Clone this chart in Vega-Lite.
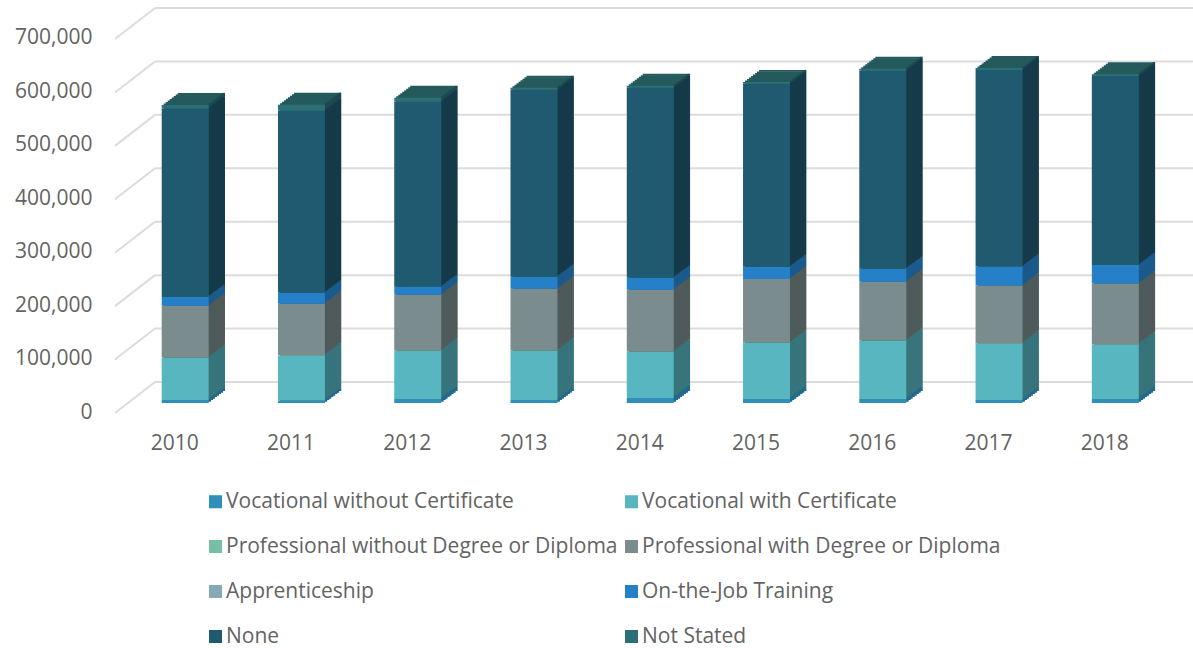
{"$schema":"https://vega.github.io/schema/vega-lite/v6.json","width":1193,"height":648,"padding":0,"autosize":"none","background":"white",
"config":{"view":{"stroke":null},"axis":{"grid":false,"domain":false,"ticks":false,"title":null,"labelFont":"Open Sans","labelFontSize":21,"labelColor":"#636363","labelPadding":0,"labelFlush":false,"labelOverlap":false},"legend":{"labelFont":"Open Sans"}},
"datasets":{"grid":[{"v":0},{"v":100000},{"v":200000},{"v":300000},{"v":400000},{"v":500000},{"v":600000},{"v":700000}],
"rows":[
{"year":2010,"series":"Vocational without Certificate","rank":1,"value":5600},{"year":2010,"series":"Vocational with Certificate","rank":2,"value":78600},{"year":2010,"series":"Professional without Degree or Diploma","rank":3,"value":1000},{"year":2010,"series":"Professional with Degree or Diploma","rank":4,"value":96400},{"year":2010,"series":"Apprenticeship","rank":5,"value":200},{"year":2010,"series":"On-the-Job Training","rank":6,"value":16800},{"year":2010,"series":"None","rank":7,"value":352800},{"year":2010,"series":"Not Stated","rank":8,"value":6500},
{"year":2011,"series":"Vocational without Certificate","rank":1,"value":4700},{"year":2011,"series":"Vocational with Certificate","rank":2,"value":84200},{"year":2011,"series":"Professional without Degree or Diploma","rank":3,"value":1000},{"year":2011,"series":"Professional with Degree or Diploma","rank":4,"value":95800},{"year":2011,"series":"Apprenticeship","rank":5,"value":200},{"year":2011,"series":"On-the-Job Training","rank":6,"value":20600},{"year":2011,"series":"None","rank":7,"value":340600},{"year":2011,"series":"Not Stated","rank":8,"value":11200},
{"year":2012,"series":"Vocational without Certificate","rank":1,"value":7500},{"year":2012,"series":"Vocational with Certificate","rank":2,"value":89800},{"year":2012,"series":"Professional without Degree or Diploma","rank":3,"value":1000},{"year":2012,"series":"Professional with Degree or Diploma","rank":4,"value":103900},{"year":2012,"series":"Apprenticeship","rank":5,"value":200},{"year":2012,"series":"On-the-Job Training","rank":6,"value":15000},{"year":2012,"series":"None","rank":7,"value":346200},{"year":2012,"series":"Not Stated","rank":8,"value":7500},
{"year":2013,"series":"Vocational without Certificate","rank":1,"value":5600},{"year":2013,"series":"Vocational with Certificate","rank":2,"value":91700},{"year":2013,"series":"Professional without Degree or Diploma","rank":3,"value":1000},{"year":2013,"series":"Professional with Degree or Diploma","rank":4,"value":115100},{"year":2013,"series":"Apprenticeship","rank":5,"value":200},{"year":2013,"series":"On-the-Job Training","rank":6,"value":22500},{"year":2013,"series":"None","rank":7,"value":350000},{"year":2013,"series":"Not Stated","rank":8,"value":3700},
{"year":2014,"series":"Vocational without Certificate","rank":1,"value":9400},{"year":2014,"series":"Vocational with Certificate","rank":2,"value":86100},{"year":2014,"series":"Professional without Degree or Diploma","rank":3,"value":1000},{"year":2014,"series":"Professional with Degree or Diploma","rank":4,"value":115100},{"year":2014,"series":"Apprenticeship","rank":5,"value":200},{"year":2014,"series":"On-the-Job Training","rank":6,"value":22500},{"year":2014,"series":"None","rank":7,"value":355600},{"year":2014,"series":"Not Stated","rank":8,"value":3700},
{"year":2015,"series":"Vocational without Certificate","rank":1,"value":7500},{"year":2015,"series":"Vocational with Certificate","rank":2,"value":104800},{"year":2015,"series":"Professional without Degree or Diploma","rank":3,"value":1000},{"year":2015,"series":"Professional with Degree or Diploma","rank":4,"value":118800},{"year":2015,"series":"Apprenticeship","rank":5,"value":200},{"year":2015,"series":"On-the-Job Training","rank":6,"value":22500},{"year":2015,"series":"None","rank":7,"value":342500},{"year":2015,"series":"Not Stated","rank":8,"value":3700},
{"year":2016,"series":"Vocational without Certificate","rank":1,"value":7500},{"year":2016,"series":"Vocational with Certificate","rank":2,"value":108600},{"year":2016,"series":"Professional without Degree or Diploma","rank":3,"value":1000},{"year":2016,"series":"Professional with Degree or Diploma","rank":4,"value":109500},{"year":2016,"series":"Apprenticeship","rank":5,"value":200},{"year":2016,"series":"On-the-Job Training","rank":6,"value":24300},{"year":2016,"series":"None","rank":7,"value":370600},{"year":2016,"series":"Not Stated","rank":8,"value":3700},
{"year":2017,"series":"Vocational without Certificate","rank":1,"value":5600},{"year":2017,"series":"Vocational with Certificate","rank":2,"value":104800},{"year":2017,"series":"Professional without Degree or Diploma","rank":3,"value":1500},{"year":2017,"series":"Professional with Degree or Diploma","rank":4,"value":107600},{"year":2017,"series":"Apprenticeship","rank":5,"value":200},{"year":2017,"series":"On-the-Job Training","rank":6,"value":35600},{"year":2017,"series":"None","rank":7,"value":368100},{"year":2017,"series":"Not Stated","rank":8,"value":3700},
{"year":2018,"series":"Vocational without Certificate","rank":1,"value":7500},{"year":2018,"series":"Vocational with Certificate","rank":2,"value":101100},{"year":2018,"series":"Professional without Degree or Diploma","rank":3,"value":1500},{"year":2018,"series":"Professional with Degree or Diploma","rank":4,"value":113200},{"year":2018,"series":"Apprenticeship","rank":5,"value":200},{"year":2018,"series":"On-the-Job Training","rank":6,"value":34600},{"year":2018,"series":"None","rank":7,"value":353700},{"year":2018,"series":"Not Stated","rank":8,"value":3700}
]},
"layer":[
{"data":{"name":"grid"},"mark":{"type":"rule","stroke":"#dcdcdc","strokeWidth":2,"yOffset":-21,"y2Offset":-21},"encoding":{"x":{"datum":2009.74,"type":"quantitative","scale":{"domain":[2008.407,2018.668],"nice":false,"zero":false,"padding":0}},"x2":{"datum":2018.668},"y":{"field":"v","type":"quantitative","scale":{"domain":[-458542,754255],"nice":false,"zero":false}},"y2":{"field":"v"}}},
{"data":{"name":"grid"},"mark":{"type":"rule","stroke":"#dcdcdc","strokeWidth":2,"yOffset":10,"y2Offset":-21},"encoding":{"x":{"datum":2009.396,"type":"quantitative"},"x2":{"datum":2009.74},"y":{"field":"v","type":"quantitative"},"y2":{"field":"v"}}},
{"data":{"name":"rows"},
"encoding":{
"x":{"field":"year","type":"quantitative","scale":{"domain":[2008.407,2018.668],"nice":false,"zero":false,"padding":0},"axis":{"orient":"bottom","offset":-216,"values":[2010,2011,2012,2013,2014,2015,2016,2017,2018],"format":"d","labelOffset":-11}},
"y":{"field":"value","type":"quantitative","stack":"zero","scale":{"domain":[-458542,754255],"nice":false,"zero":false},"axis":{"orient":"left","offset":-92,"values":[0,100000,200000,300000,400000,500000,600000,700000],"format":",d","labelOffset":9}},
"order":{"field":"rank","type":"quantitative"},
"detail":{"field":"series"}
},
"layer":[
{"mark":{"type":"bar","width":47,"color":"#245a5c","xOffset":2,"yOffset":-1.5,"y2Offset":-1.5}},
{"mark":{"type":"bar","width":47,"color":"#245a5c","xOffset":4,"yOffset":-3,"y2Offset":-3}},
{"mark":{"type":"bar","width":47,"color":"#245a5c","xOffset":6,"yOffset":-4.5,"y2Offset":-4.5}},
{"mark":{"type":"bar","width":47,"color":"#245a5c","xOffset":8,"yOffset":-6,"y2Offset":-6}},
{"mark":{"type":"bar","width":47,"color":"#245a5c","xOffset":10,"yOffset":-7.5,"y2Offset":-7.5}},
{"mark":{"type":"bar","width":47,"color":"#245a5c","xOffset":12,"yOffset":-9,"y2Offset":-9}},
{"mark":{"type":"bar","width":47,"color":"#245a5c","xOffset":14,"yOffset":-10.5,"y2Offset":-10.5}},
{"mark":{"type":"bar","width":47,"color":"#245a5c","xOffset":16,"yOffset":-12,"y2Offset":-12}},
{"encoding":{"color":{"field":"series","type":"nominal","legend":null,"scale":{"domain":["Vocational without Certificate","Vocational with Certificate","Professional without Degree or Diploma","Professional with Degree or Diploma","Apprenticeship","On-the-Job Training","None","Not Stated"],"range":["#1f6a90","#37747c","#4d7d6d","#4f5a5b","#56707a","#1a5a8c","#153a4a","#1d4a4e"]}}},
"layer":[
{"mark":{"type":"bar","width":2.6,"xOffset":24.5,"yOffset":-1.5,"y2Offset":-1.5}},
{"mark":{"type":"bar","width":2.6,"xOffset":26.5,"yOffset":-3,"y2Offset":-3}},
{"mark":{"type":"bar","width":2.6,"xOffset":28.5,"yOffset":-4.5,"y2Offset":-4.5}},
{"mark":{"type":"bar","width":2.6,"xOffset":30.5,"yOffset":-6,"y2Offset":-6}},
{"mark":{"type":"bar","width":2.6,"xOffset":32.5,"yOffset":-7.5,"y2Offset":-7.5}},
{"mark":{"type":"bar","width":2.6,"xOffset":34.5,"yOffset":-9,"y2Offset":-9}},
{"mark":{"type":"bar","width":2.6,"xOffset":36.5,"yOffset":-10.5,"y2Offset":-10.5}},
{"mark":{"type":"bar","width":2.6,"xOffset":38.5,"yOffset":-12,"y2Offset":-12}}
]},
{"mark":{"type":"bar","width":47},"encoding":{"color":{"field":"series","type":"nominal","scale":{"domain":["Vocational without Certificate","Vocational with Certificate","Professional without Degree or Diploma","Professional with Degree or Diploma","Apprenticeship","On-the-Job Training","None","Not Stated"],"range":["#2e8fb8","#57b6c0","#76bea6","#7a8c8e","#85a9b5","#2680c8","#1f5a70","#2b7076"]},"legend":{"title":null,"orient":"none","legendX":205,"legendY":491,"direction":"horizontal","columns":2,"symbolType":"square","symbolSize":170,"labelFontSize":21,"labelColor":"#636363","labelLimit":600,"columnPadding":3,"rowPadding":23,"labelOffset":0,"gridAlign":"each"}}}}
],
"resolve":{"scale":{"color":"independent"}}}
]}
